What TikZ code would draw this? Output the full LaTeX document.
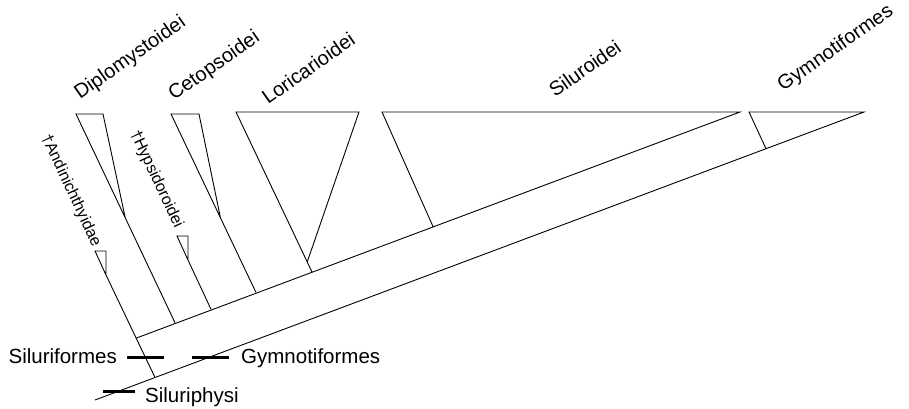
\documentclass[tikz,border=0pt]{standalone}
\usepackage{fontspec}
\setmainfont{Liberation Sans}
\begin{document}
\begin{tikzpicture}[x=1pt,y=1pt,
  br/.style={line width=0.9pt, line join=miter},
  bar/.style={line width=3pt},
  toplab/.style={font=\fontsize{20}{24}\selectfont, rotate=35, anchor=base west, inner sep=0pt},
  fossil/.style={font=\fontsize{16}{19}\selectfont, rotate=-65, anchor=base west, inner sep=0pt},
  botlab/.style={font=\fontsize{20.5}{24}\selectfont, inner sep=0pt}]
\useasboundingbox (0,0) rectangle (909,408);
% main lines
\coordinate (R) at (95,8);
\coordinate (Gr) at (864,296);
\coordinate (P0) at (155,30.5);
\coordinate (Atip) at (106,133);
\coordinate (Atl) at (95,157);
\coordinate (Atr) at (106,157);
\coordinate (Sr) at (740,296);
\coordinate (Q) at (-29,8);
\coordinate (S) at (intersection of P0--Atip and Sr--Q);
% Diplomystoidei
\coordinate (Dtl) at (76,294);
\coordinate (Dtr) at (103,294);
\coordinate (Dtip) at (125.3,190);
\coordinate (Dft) at (175,85.3);
% Hypsidoroidei
\coordinate (Htl) at (177,172);
\coordinate (Htr) at (188,172);
\coordinate (Htip) at (188,148);
\coordinate (Hft) at (211,98.7);
% Cetopsoidei
\coordinate (Ctl) at (171,294);
\coordinate (Ctr) at (199,294);
\coordinate (Ctip) at (220.5,190);
\coordinate (Cft) at (256,115.5);
% Loricarioidei
\coordinate (Ltl) at (236,296);
\coordinate (Ltr) at (359,296);
\coordinate (Ltip) at (307.2,146);
\coordinate (Lft) at (312,136);
% Siluroidei
\coordinate (Stl) at (382,296);
\coordinate (Sft) at (433,181.5);
% Gymnotiformes
\coordinate (Gtl) at (749,296);
\coordinate (Gft) at (766,259.3);

\draw[br] (R) -- (Gr) -- (Gtl) -- (Gft);
\draw[br] (S) -- (Sr) -- (Stl) -- (Sft);
\draw[br] (P0) -- (Atip) -- (Atr) -- (Atl) -- (Atip);
\draw[br] (Dft) -- (Dtl) -- (Dtr) -- (Dtip);
\draw[br] (Hft) -- (Htip) -- (Htr) -- (Htl) -- (Htip);
\draw[br] (Cft) -- (Ctl) -- (Ctr) -- (Ctip);
\draw[br] (Lft) -- (Ltl) -- (Ltr) -- (Ltip);

% bars
\coordinate (b1a) at (127,51); \coordinate (b1b) at (164,51);
\coordinate (b2a) at (192,51); \coordinate (b2b) at (229,51);
\coordinate (b3a) at (103,17); \coordinate (b3b) at (135,17);
\draw[bar] (b1a) -- (b1b);
\draw[bar] (b2a) -- (b2b);
\draw[bar] (b3a) -- (b3b);

% labels
\node[toplab] (lD) at (80,308) {Diplomystoidei};
\node[toplab] (lC) at (174,307) {Cetopsoidei};
\node[toplab] (lL) at (268,303) {Loricarioidei};
\node[toplab] (lS) at (555,310) {Siluroidei};
\node[toplab] (lG) at (783,316) {Gymnotiformes};
\node[fossil] (lA) at (41,271) {†Andinichthyidae};
\node[fossil] (lH) at (130,275) {†Hypsidoroidei};
\node[botlab, anchor=base east] (lSf) at (117,45) {Siluriformes};
\node[botlab, anchor=base west] (lGb) at (241,45) {Gymnotiformes};
\node[botlab, anchor=base west] (lSp) at (145,6) {Siluriphysi};
\end{tikzpicture}
\end{document}
